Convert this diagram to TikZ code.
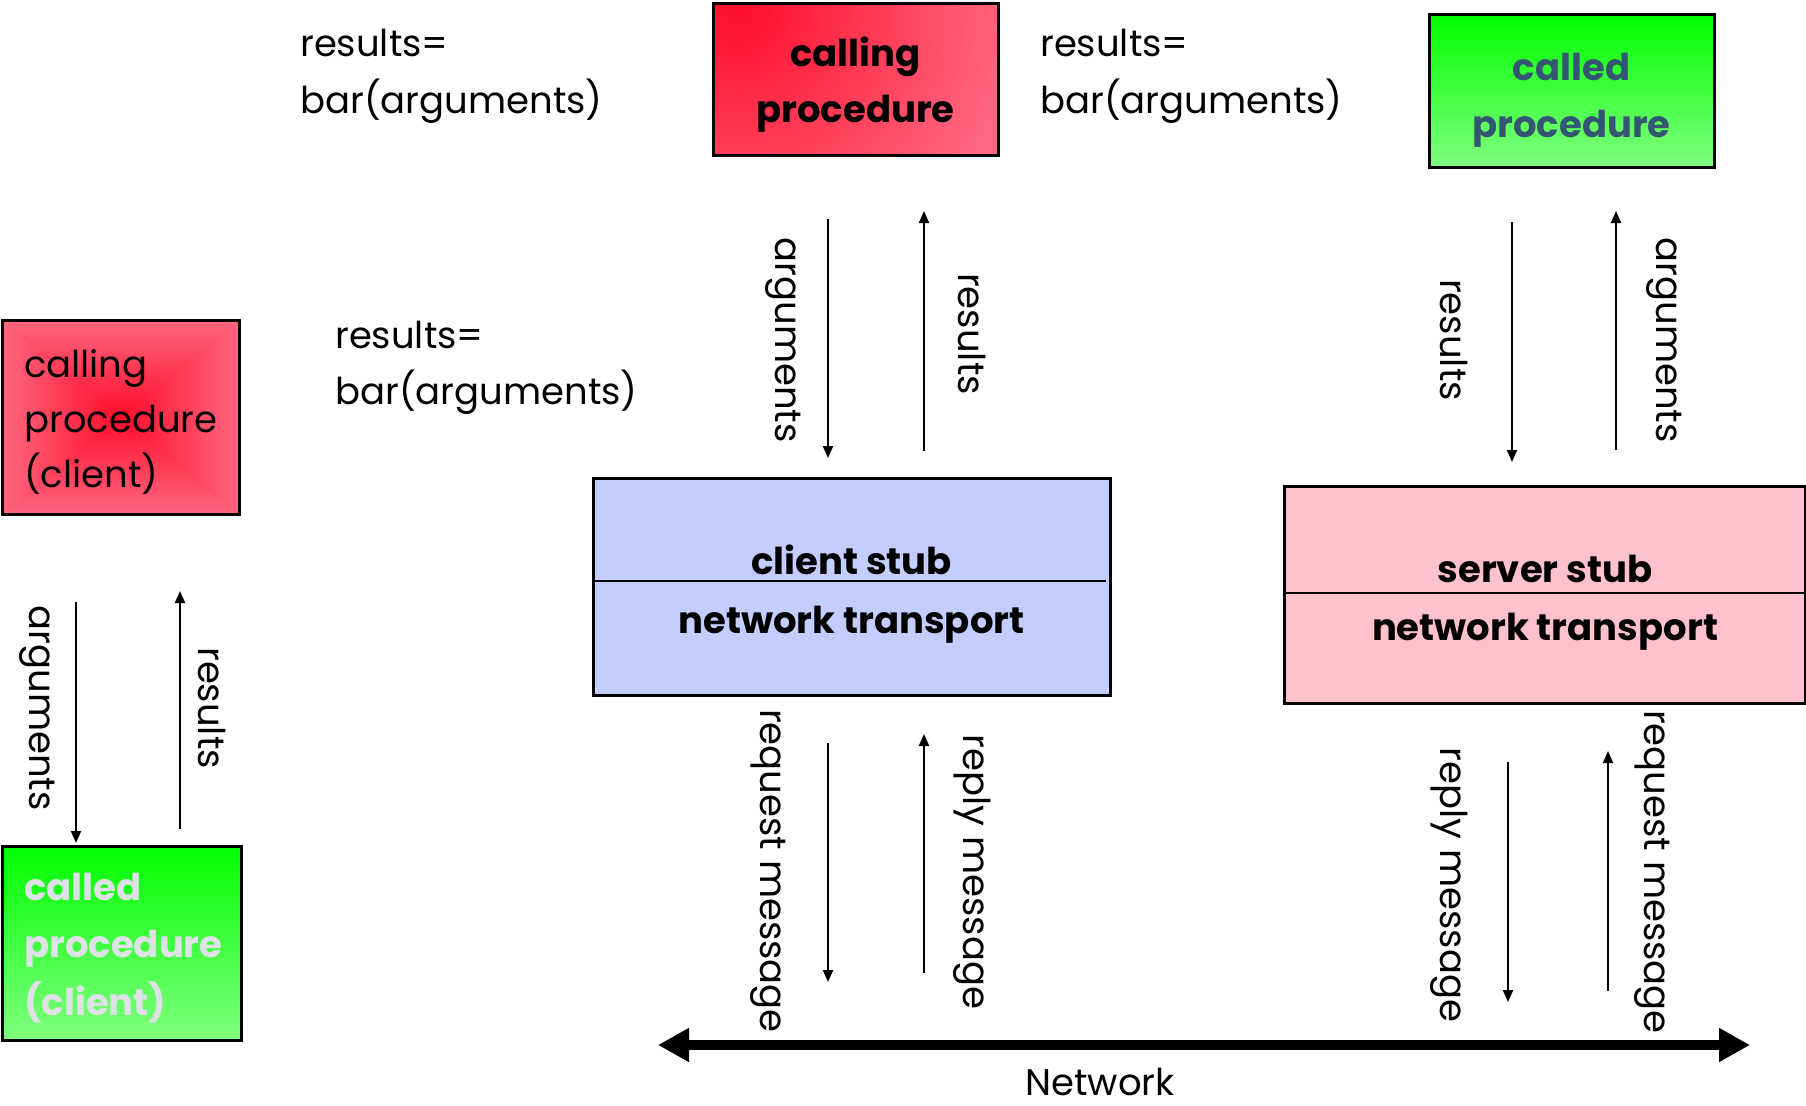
\documentclass[tikz,border=0pt]{standalone}
\usepackage{fontspec}
\setmainfont{Poppins}
\usetikzlibrary{arrows.meta}

\definecolor{hotred}{RGB}{255,14,42}
\definecolor{softred}{RGB}{255,102,128}
\definecolor{midred}{RGB}{255,60,88}
\definecolor{topgreen}{RGB}{0,255,0}
\definecolor{lowgreen}{RGB}{128,255,128}
\definecolor{stubblue}{RGB}{195,206,255}
\definecolor{stubpink}{RGB}{255,194,204}
\definecolor{slate}{RGB}{52,86,114}
\definecolor{paleink}{RGB}{222,225,229}

\begin{document}
\begin{tikzpicture}[x=1bp,y=-1bp,
  box/.style={draw=black, line width=3bp, rectangle, inner sep=0pt},
  txt/.style={inner sep=0pt, font=\fontsize{37bp}{44bp}\selectfont},
  btxt/.style={inner sep=0pt, font=\fontsize{37bp}{44bp}\selectfont\bfseries},
  vtxt/.style={txt, rotate=-90, anchor=center},
  flow/.style={line width=2bp, -{Triangle[length=12bp,width=10bp]}},
  divider/.style={line width=2bp},
  greenfill/.style={top color=topgreen, bottom color=lowgreen}
]
\useasboundingbox (0,0) rectangle (1806,1105);

% ---------- boxes ----------
% calling procedure (client): cross-shaped gradient, red in the middle
\node[box, minimum width=236bp, minimum height=194bp,
  path picture={
    \fill[midred] (path picture bounding box.north west) rectangle (path picture bounding box.south east);
    \begin{scope}
      \clip (path picture bounding box.north west) -- (path picture bounding box.north east) -- (path picture bounding box.center) -- cycle;
      \shade[top color=softred, bottom color=hotred] (path picture bounding box.north west) rectangle (path picture bounding box.east);
    \end{scope}
    \begin{scope}
      \clip (path picture bounding box.south west) -- (path picture bounding box.south east) -- (path picture bounding box.center) -- cycle;
      \shade[top color=hotred, bottom color=softred] (path picture bounding box.west) rectangle (path picture bounding box.south east);
    \end{scope}
    \begin{scope}
      \clip (path picture bounding box.north west) -- (path picture bounding box.south west) -- (path picture bounding box.center) -- cycle;
      \shade[left color=softred, right color=hotred] (path picture bounding box.north west) rectangle (path picture bounding box.south);
    \end{scope}
    \begin{scope}
      \clip (path picture bounding box.north east) -- (path picture bounding box.south east) -- (path picture bounding box.center) -- cycle;
      \shade[left color=hotred, right color=softred] (path picture bounding box.north) rectangle (path picture bounding box.south east);
    \end{scope}
  }] (callC) at (121,417) {};

% called procedure (client)
\node[box, greenfill, minimum width=238bp, minimum height=194bp] (calledC) at (122,943) {};

% calling procedure: red glow from the upper left corner
\node[box, minimum width=285bp, minimum height=152bp,
  path picture={
    \fill[softred] (path picture bounding box.north west) rectangle (path picture bounding box.south east);
    \shade[inner color=hotred, outer color=softred] ([shift={(25,8)}]path picture bounding box.north west) circle (270bp);
  }] (callT) at (855.5,79) {};

% called procedure
\node[box, greenfill, minimum width=285bp, minimum height=153bp] (calledT) at (1571.5,90.5) {};

% stubs
\node[box, fill=stubblue, minimum width=517bp, minimum height=217bp] (cstub) at (851.5,586.5) {};
\node[box, fill=stubpink, minimum width=521bp, minimum height=217bp] (sstub) at (1544.5,594.5) {};

\coordinate (cdivL) at (593,581);
\coordinate (cdivR) at (1106,581);
\coordinate (sdivL) at (1284,593);
\coordinate (sdivR) at (1805,593);
\draw[divider] (cdivL) -- (cdivR);
\draw[divider] (sdivL) -- (sdivR);

% ---------- box texts ----------
\node[txt, anchor=base west] (callC1) at (24,377) {calling};
\node[txt, anchor=base west] (callC2) at (24,432) {procedure};
\node[txt, anchor=base west] (callC3) at (24,487) {(client)};

\node[btxt, text=paleink, anchor=base west] (calledC1) at (24,900) {called};
\node[btxt, text=paleink, anchor=base west] (calledC2) at (24,957) {procedure};
\node[btxt, text=paleink, anchor=base west] (calledC3) at (24,1015) {(client)};

\node[btxt, anchor=base] (callT1) at (855.5,66) {calling};
\node[btxt, anchor=base] (callT2) at (855.5,122) {procedure};

\node[btxt, text=slate, anchor=base] (calledT1) at (1571.5,80) {called};
\node[btxt, text=slate, anchor=base] (calledT2) at (1571.5,137) {procedure};

\node[btxt, anchor=base] (cstub1) at (851.5,574) {client stub};
\node[btxt, anchor=base] (cstub2) at (851.5,633) {network transport};
\node[btxt, anchor=base] (sstub1) at (1545,582) {server stub};
\node[btxt, anchor=base] (sstub2) at (1545,640) {network transport};

% ---------- call expressions ----------
\node[txt, anchor=base west] (expA1) at (300,56) {results=};
\node[txt, anchor=base west] (expA2) at (300,113) {bar(arguments)};
\node[txt, anchor=base west] (expB1) at (1040,56) {results=};
\node[txt, anchor=base west] (expB2) at (1040,113) {bar(arguments)};
\node[txt, anchor=base west] (expC1) at (335,348) {results=};
\node[txt, anchor=base west] (expC2) at (335,404) {bar(arguments)};

% ---------- local call (left) ----------
\coordinate (lArgS) at (76,602);   \coordinate (lArgE) at (76,843);
\coordinate (lResS) at (180,829);  \coordinate (lResE) at (180,591);
\draw[flow] (lArgS) -- (lArgE);
\draw[flow] (lResS) -- (lResE);
\node[vtxt] (lArgT) at (37,708) {arguments};
\node[vtxt] (lResT) at (212,708) {results};

% ---------- client side ----------
\coordinate (cArgS) at (828,219);  \coordinate (cArgE) at (828,458);
\coordinate (cResS) at (924,451);  \coordinate (cResE) at (924,211);
\draw[flow] (cArgS) -- (cArgE);
\draw[flow] (cResS) -- (cResE);
\node[vtxt] (cArgT) at (783,340) {arguments};
\node[vtxt] (cResT) at (972,334) {results};

\coordinate (cReqS) at (828,743);  \coordinate (cReqE) at (828,982);
\coordinate (cRepS) at (924,973);  \coordinate (cRepE) at (924,734);
\draw[flow] (cReqS) -- (cReqE);
\draw[flow] (cRepS) -- (cRepE);
\node[vtxt] (cReqT) at (768,871) {request message};
\node[vtxt] (cRepT) at (972,872) {reply message};

% ---------- server side ----------
\coordinate (sResS) at (1512,222); \coordinate (sResE) at (1512,462);
\coordinate (sArgS) at (1616,450); \coordinate (sArgE) at (1616,211);
\draw[flow] (sResS) -- (sResE);
\draw[flow] (sArgS) -- (sArgE);
\node[vtxt] (sResT) at (1454,340) {results};
\node[vtxt] (sArgT) at (1664,340) {arguments};

\coordinate (sRepS) at (1508,762); \coordinate (sRepE) at (1508,1002);
\coordinate (sReqS) at (1608,991); \coordinate (sReqE) at (1608,751);
\draw[flow] (sRepS) -- (sRepE);
\draw[flow] (sReqS) -- (sReqE);
\node[vtxt] (sRepT) at (1449,885) {reply message};
\node[vtxt] (sReqT) at (1652,872) {request message};

% ---------- network ----------
\coordinate (netL) at (658,1045);
\coordinate (netR) at (1750,1045);
\draw[line width=10bp, {Triangle[length=31bp,width=32bp]}-{Triangle[length=31bp,width=32bp]}] (netL) -- (netR);
\node[txt, anchor=base] (netT) at (1100,1095) {Network};

\end{tikzpicture}
\end{document}
